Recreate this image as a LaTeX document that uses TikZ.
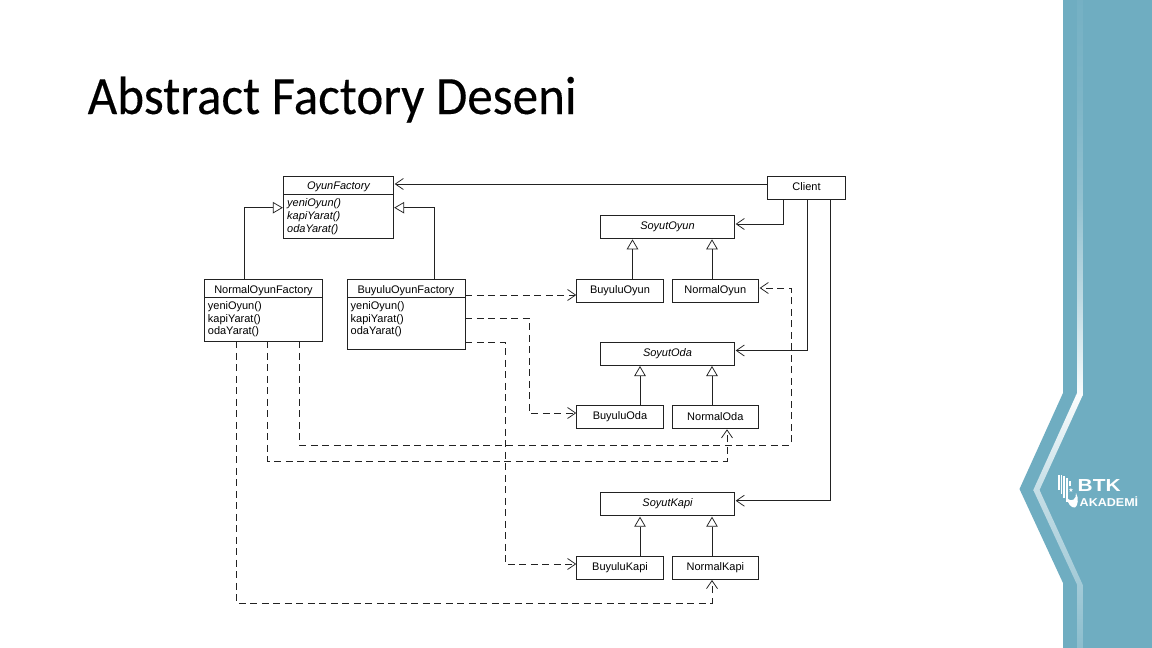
\documentclass[tikz,border=0pt]{standalone}
\usepackage{fontspec}
\setmainfont{Liberation Sans}
\newfontfamily\titlefont[FakeStretch=0.945,FakeBold=0.25]{Carlito}
\newfontfamily\logofont[FakeStretch=1.2]{Liberation Sans}
\newfontfamily\logosmall[FakeStretch=1.1]{Liberation Sans}
\newfontfamily\symfont{DejaVu Sans}
\usetikzlibrary{arrows.meta,calc}
\definecolor{barblue}{HTML}{6FADC1}
\definecolor{umlline}{HTML}{222222}
\tikzset{
  x=1pt,y=-1pt,
  umlbox/.style={draw=umlline,line width=0.75pt,inner sep=0pt,outer sep=0pt,anchor=north west},
  boxtext/.style={inner sep=0pt,font=\fontsize{11}{12.9}\selectfont,align=left,anchor=north west},
  sepline/.style={draw=umlline,line width=0.75pt},
  inherit/.style={draw=umlline,line width=0.75pt,-{Triangle[open,length=10pt,width=11.5pt,fill=white]}},
  assoc/.style={draw=umlline,line width=0.75pt,-{Straight Barb[length=8pt,width=11pt,line width=0.75pt]}},
  depend/.style={assoc,dash pattern=on 7pt off 4.5pt},
}
\newcommand{\classbox}[7][]{%
  \node[umlbox,minimum width=#4-#2,minimum height=#5-#3] (#7) at (#2,#3) {};
  \node at ({(#2+#4)/2},{(#3+#5)/2-0.3}) [inner sep=0pt,font=\fontsize{11}{12}\selectfont#1] (#7t) {#6};
}
\begin{document}
\begin{tikzpicture}
\useasboundingbox (0,0) rectangle (1152,648);
\fill[white] (0,0) rectangle (1152,648);
% side bar
\fill[barblue] (1063,0) -- (1152,0) -- (1152,648) -- (1063,648) -- (1063,583) -- (1019.5,489) -- (1063,393) -- cycle;
\begin{scope}
\clip (1077.2,0) -- (1082.8,0) -- (1082.8,395) -- (1039.5,490) -- (1082.8,585) -- (1082.8,648) -- (1077.2,648) -- (1077.2,585) -- (1033.3,490) -- (1077.2,392.7) -- cycle;
\shade[top color=barblue!96!white,bottom color=barblue!90!white] (1000,0) rectangle (1100,100.5);
\shade[top color=barblue!90!white,bottom color=barblue!75!white] (1000,100) rectangle (1100,200.5);
\shade[top color=barblue!75!white,bottom color=barblue!45!white] (1000,200) rectangle (1100,300.5);
\shade[top color=barblue!45!white,bottom color=barblue!3!white] (1000,300) rectangle (1100,395.5);
\shade[top color=barblue!3!white,bottom color=barblue!40!white] (1000,395) rectangle (1100,490.5);
\shade[top color=barblue!40!white,bottom color=barblue!80!white] (1000,490) rectangle (1100,648);
\end{scope}
% logo
\node[inner sep=0pt,anchor=base west,text=white,font=\logofont\fontsize{17.4}{17.4}\selectfont\bfseries] (btk) at (1077.5,491.7) {BTK};
\node[inner sep=0pt,anchor=base west,text=white,font=\logosmall\fontsize{11.4}{11.4}\selectfont\bfseries] (akademi) at (1079.5,506) {AKADEMİ};
\fill[white] (1058,474.5) rectangle (1059.5,490);
\fill[white] (1060.5,475) rectangle (1062,494);
\fill[white] (1063,476) rectangle (1064.5,498);
\fill[white] (1065.5,478) rectangle (1068,502);
\fill[white] (1069,481) rectangle (1070.5,486);
\fill[white] (1067,498) .. controls (1068,504) and (1071,508) .. (1075,507.5) .. controls (1078,506) and (1079,498) .. (1076,493) .. controls (1076.5,499) and (1072,503) .. (1067,498) -- cycle;
\node[inner sep=0pt,text=white,font=\symfont\fontsize{6}{6}\selectfont] (star) at (1071,490.5) {★};
% title
\node[inner sep=0pt,anchor=base west,font=\titlefont\fontsize{54}{54}\selectfont] (title) at (87.5,114) {Abstract Factory Deseni};
% classes
\classbox{283.3}{176.3}{393.7}{238.3}{}{oyunf}
\node[inner sep=0pt,font=\fontsize{11}{12}\selectfont\itshape] (oyunft) at (338.5,187) {OyunFactory};
\draw[sepline] (oyunf.west |- 0,194.5) -- (oyunf.east |- 0,194.5);
\node[boxtext,font=\fontsize{11}{12.9}\selectfont\itshape] (oyunfm) at (287,198.5) {yeniOyun()\\kapiYarat()\\odaYarat()};
\classbox{204.7}{279.3}{322.3}{341.3}{}{normalf}
\node[inner sep=0pt,font=\fontsize{11}{12}\selectfont] (normalft) at (263.5,290.3) {NormalOyunFactory};
\draw[sepline] (normalf.west |- 0,297.7) -- (normalf.east |- 0,297.7);
\node[boxtext] (normalfm) at (207.7,301) {yeniOyun()\\kapiYarat()\\odaYarat()};
\classbox{347}{279.3}{465.3}{349}{}{buyulf}
\node[inner sep=0pt,font=\fontsize{11}{12}\selectfont] (buyulft) at (405.8,290.3) {BuyuluOyunFactory};
\draw[sepline] (buyulf.west |- 0,297.7) -- (buyulf.east |- 0,297.7);
\node[boxtext] (buyulfm) at (350.5,301) {yeniOyun()\\kapiYarat()\\odaYarat()};
\classbox{767.3}{176.3}{845.7}{199.3}{}{client}
\node[inner sep=0pt,font=\fontsize{11}{12}\selectfont] (clientt) at (806.5,186.3) {Client};
\classbox[\itshape]{600.3}{215.7}{734.7}{238.3}{SoyutOyun}{soyutoyun}
\classbox{576.7}{279.3}{663.3}{302}{BuyuluOyun}{buyoyun}
\classbox{672}{279.3}{758.7}{302}{NormalOyun}{noroyun}
\classbox[\itshape]{600.3}{342.3}{734.7}{365}{SoyutOda}{soyutoda}
\classbox{576.7}{405.3}{663.3}{428.3}{BuyuluOda}{buyoda}
\classbox{672}{405.3}{758.7}{428.3}{NormalOda}{noroda}
\classbox[\itshape]{600.3}{492.7}{734.7}{515.7}{SoyutKapi}{soyutkapi}
\classbox{576.7}{556.3}{663.3}{579}{BuyuluKapi}{buykapi}
\classbox{672}{556.3}{758.7}{579}{NormalKapi}{norkapi}
% associations
\draw[assoc] (client.west |- 0,184) -- ([xshift=1pt]oyunf.east |- 0,184);
\draw[assoc] (client.south -| 783,0) |- ([xshift=1pt]soyutoyun.east |- 0,224);
\draw[assoc] (client.south -| 807,0) |- ([xshift=1pt]soyutoda.east |- 0,350.5);
\draw[assoc] (client.south -| 830.5,0) |- ([xshift=1pt]soyutkapi.east |- 0,500.7);
% inheritance
\draw[inherit] (normalf.north -| 244,0) |- ([xshift=-0.5pt]oyunf.west |- 0,207.7);
\draw[inherit] (buyulf.north -| 434.5,0) |- ([xshift=0.5pt]oyunf.east |- 0,207.7);
\draw[inherit] (buyoyun.north -| 632.5,0) -- ([yshift=-1pt]soyutoyun.south -| 632.5,0);
\draw[inherit] (noroyun.north -| 712,0) -- ([yshift=-1pt]soyutoyun.south -| 712,0);
\draw[inherit] (buyoda.north -| 640,0) -- ([yshift=-1pt]soyutoda.south -| 640,0);
\draw[inherit] (noroda.north -| 712,0) -- ([yshift=-1pt]soyutoda.south -| 712,0);
\draw[inherit] (buykapi.north -| 640,0) -- ([yshift=-1pt]soyutkapi.south -| 640,0);
\draw[inherit] (norkapi.north -| 712,0) -- ([yshift=-1pt]soyutkapi.south -| 712,0);
% dependencies
\draw[depend] (buyulf.east |- 0,295) -- ([xshift=-0.5pt]buyoyun.west |- 0,295);
\draw[depend] (buyulf.east |- 0,318) -| (529,413) -- ([xshift=-0.5pt]buyoda.west |- 0,413);
\draw[depend] (buyulf.east |- 0,342) -| (505,564) -- ([xshift=-0.5pt]buykapi.west |- 0,564);
\draw[depend] (normalf.south -| 236,0) |- (712,603) -- ([yshift=-1pt]norkapi.south -| 712,0);
\draw[depend] (normalf.south -| 267.5,0) |- (727,461) -- ([yshift=-1pt]noroda.south -| 727,0);
\draw[depend] (normalf.south -| 299.5,0) |- (791,445) |- ([xshift=1pt]noroyun.east |- 0,288);
\end{tikzpicture}
\end{document}
